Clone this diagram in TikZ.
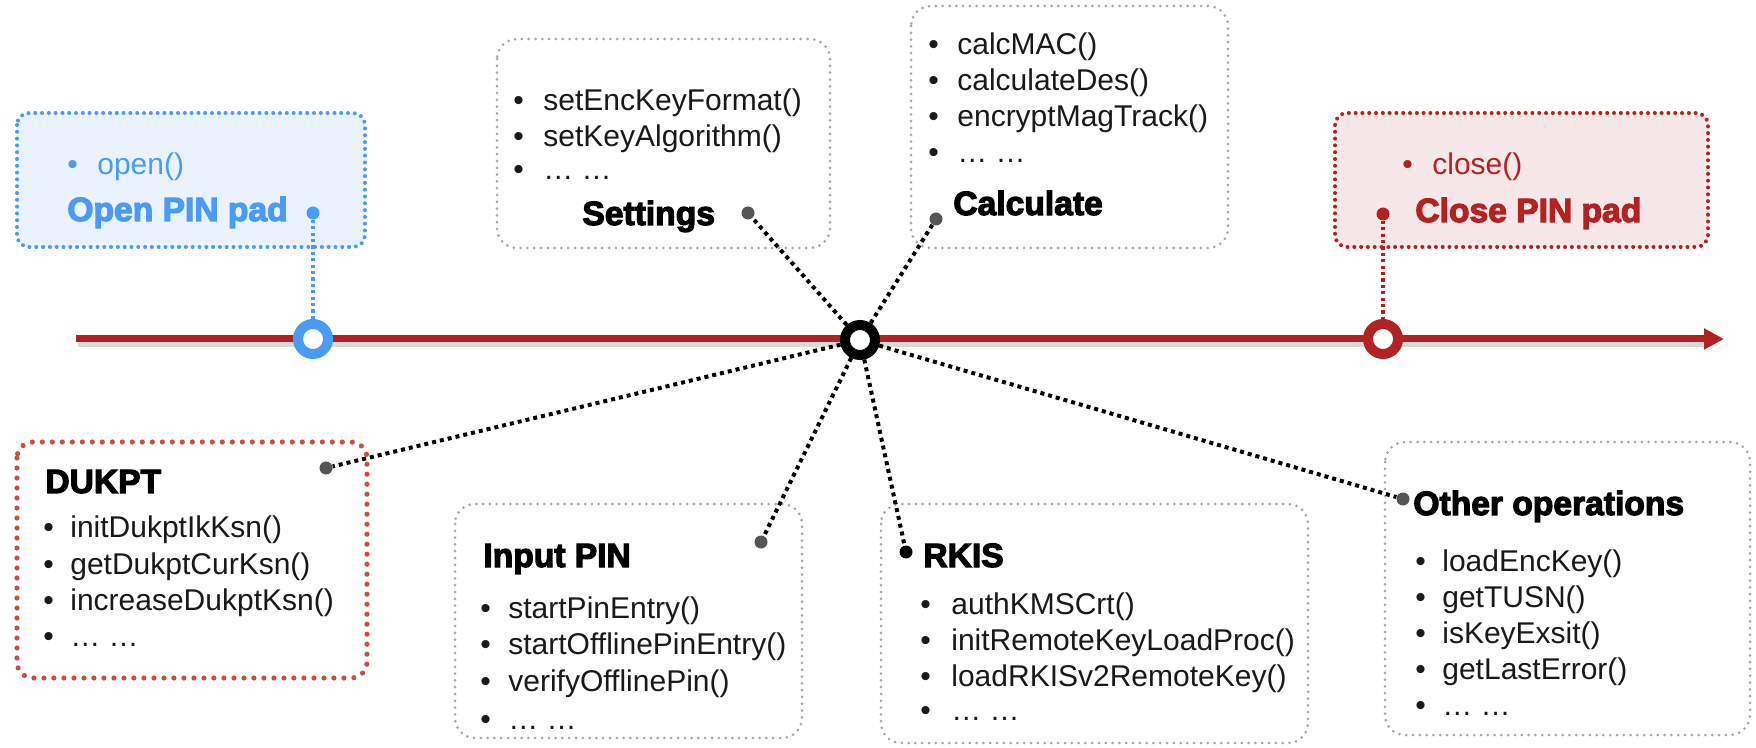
\documentclass[tikz,border=0pt]{standalone}
\usepackage{fontspec}
\setmainfont{Liberation Sans}
\newfontfamily\hvy{Liberation Sans Bold}[FakeBold=3.5]
\usetikzlibrary{arrows.meta}
\definecolor{pblue}{RGB}{74,155,245}
\definecolor{pbluefill}{RGB}{234,243,253}
\definecolor{pred}{RGB}{178,34,34}
\definecolor{predfill}{RGB}{246,232,232}
\definecolor{dkred}{RGB}{200,78,72}
\definecolor{bgray}{RGB}{168,168,168}
\definecolor{dgray}{RGB}{85,85,85}
\newcommand\bul[1]{\makebox[#1][l]{•}}
\begin{document}
\begin{tikzpicture}[x=0.5pt,y=-0.5pt,
  graybox/.style={draw=bgray, line width=1.5pt, dash pattern=on 0pt off 3.4pt, line cap=round, rounded corners=10pt},
  bluebox/.style={draw=pblue, fill=pbluefill, line width=2pt, dash pattern=on 0pt off 3.4pt, line cap=round, rounded corners=6pt},
  redbox/.style={draw=pred, fill=predfill, line width=2pt, dash pattern=on 0pt off 3.4pt, line cap=round, rounded corners=6pt},
  dukbox/.style={draw=dkred, line width=2.6pt, dash pattern=on 0pt off 5pt, line cap=round, rounded corners=8pt},
  conn/.style={draw=black, line width=2pt, dash pattern=on 2pt off 2pt},
  bconn/.style={draw=pblue, line width=1.6pt, dash pattern=on 1.6pt off 1.6pt},
  rconn/.style={draw=pred, line width=1.6pt, dash pattern=on 1.6pt off 1.6pt},
  pring/.style={circle, draw=#1, line width=5pt, fill=white, minimum size=15pt, inner sep=0pt},
  pdot/.style={circle, fill=#1, minimum size=6.5pt, inner sep=0pt},
  itemtxt/.style={font=\fontsize{15}{18}\selectfont, inner sep=0pt, anchor=base west, text=black!90},
  headtxt/.style={font=\hvy\fontsize{16.8}{20}\selectfont, inner sep=0pt, anchor=base west, text=black},
]
\useasboundingbox (0,0) rectangle (1756,748);

% boxes
\draw[bluebox] (17,113) rectangle (365,247);
\draw[redbox] (1335,113) rectangle (1708,247);
\draw[graybox] (497,39) rectangle (830,248);
\draw[graybox] (911,6) rectangle (1228,248);
\draw[dukbox] (17,442) rectangle (367,678);
\draw[graybox] (455,504) rectangle (802,738);
\draw[graybox] (881,504) rectangle (1308,743);
\draw[graybox] (1385,442) rectangle (1750,735);

% timeline
\coordinate (tlA) at (76,339);
\coordinate (tlB) at (1724,339);
\coordinate (shA) at (78,344);
\coordinate (shB) at (1705,344);
\draw[line width=3pt, black!15] (shA) -- (shB);
\draw[pred, line width=3.5pt, -{Triangle[length=10pt,width=10pt]}] (tlA) -- (tlB);

% rings
\node[pring=pblue] (openring) at (313,339) {};
\node[pring=black] (hub) at (860,340) {};
\node[pring=pred] (closering) at (1383,339) {};

% dots
\node[pdot=pblue] (opendot) at (313,213) {};
\node[pdot=pred] (closedot) at (1383,214) {};
\node[pdot=dgray] (setdot) at (748,213) {};
\node[pdot=dgray] (calcdot) at (936,219) {};
\node[pdot=dgray] (dukdot) at (326,468) {};
\node[pdot=dgray] (indot) at (761,542) {};
\node[pdot=black] (rkdot) at (906,552) {};
\node[pdot=dgray] (othdot) at (1403,499) {};

% connectors
\draw[bconn] (opendot) -- (openring);
\draw[rconn] (closedot) -- (closering);
\draw[conn] (hub) -- (setdot);
\draw[conn] (hub) -- (calcdot);
\draw[conn] (hub) -- (dukdot);
\draw[conn] (hub) -- (indot);
\draw[conn] (hub) -- (rkdot);
\draw[conn] (hub) -- (othdot);

% open
\node[itemtxt, text=pblue] (openi) at (67,175) {\bul{15pt}open()};
\node[headtxt, text=pblue] (openh) at (67,221) {Open PIN pad};
% close
\node[itemtxt, text=pred] (closei) at (1402,175) {\bul{15pt}close()};
\node[headtxt, text=pred] (closeh) at (1415,222) {Close PIN pad};
% settings
\node[itemtxt] (s1) at (513,111) {\bul{15pt}setEncKeyFormat()};
\node[itemtxt] (s2) at (513,147) {\bul{15pt}setKeyAlgorithm()};
\node[itemtxt] (s3) at (513,180) {\bul{15pt}… …};
\node[headtxt] (sh) at (582,225) {Settings};
% calculate
\node[itemtxt] (c1) at (928,55) {\bul{14.5pt}calcMAC()};
\node[itemtxt] (c2) at (928,91) {\bul{14.5pt}calculateDes()};
\node[itemtxt] (c3) at (928,127) {\bul{14.5pt}encryptMagTrack()};
\node[itemtxt] (c4) at (928,163) {\bul{14.5pt}… …};
\node[headtxt] (ch) at (953,215) {Calculate};
% dukpt
\node[headtxt] (dh) at (45,493) {DUKPT};
\node[itemtxt] (d1) at (43,537) {\bul{13.5pt}initDukptIkKsn()};
\node[itemtxt] (d2) at (43,574) {\bul{13.5pt}getDukptCurKsn()};
\node[itemtxt] (d3) at (43,610) {\bul{13.5pt}increaseDukptKsn()};
\node[itemtxt] (d4) at (43,646) {\bul{13.5pt}… …};
% input pin
\node[headtxt] (ih) at (483,567) {Input PIN};
\node[itemtxt] (i1) at (480,618) {\bul{14pt}startPinEntry()};
\node[itemtxt] (i2) at (480,654) {\bul{14pt}startOfflinePinEntry()};
\node[itemtxt] (i3) at (480,691) {\bul{14pt}verifyOfflinePin()};
\node[itemtxt] (i4) at (480,729) {\bul{14pt}… …};
% rkis
\node[headtxt] (rh) at (923,567) {RKIS};
\node[itemtxt] (r1) at (920,614) {\bul{15.5pt}authKMSCrt()};
\node[itemtxt] (r2) at (920,650) {\bul{15.5pt}initRemoteKeyLoadProc()};
\node[itemtxt] (r3) at (920,686) {\bul{15.5pt}loadRKISv2RemoteKey()};
\node[itemtxt] (r4) at (920,720) {\bul{15.5pt}… …};
% other
\node[headtxt] (oh) at (1413,515) {Other operations};
\node[itemtxt] (o1) at (1415,571) {\bul{13.5pt}loadEncKey()};
\node[itemtxt] (o2) at (1415,607) {\bul{13.5pt}getTUSN()};
\node[itemtxt] (o3) at (1415,643) {\bul{13.5pt}isKeyExsit()};
\node[itemtxt] (o4) at (1415,679) {\bul{13.5pt}getLastError()};
\node[itemtxt] (o5) at (1415,715) {\bul{13.5pt}… …};
\end{tikzpicture}
\end{document}
